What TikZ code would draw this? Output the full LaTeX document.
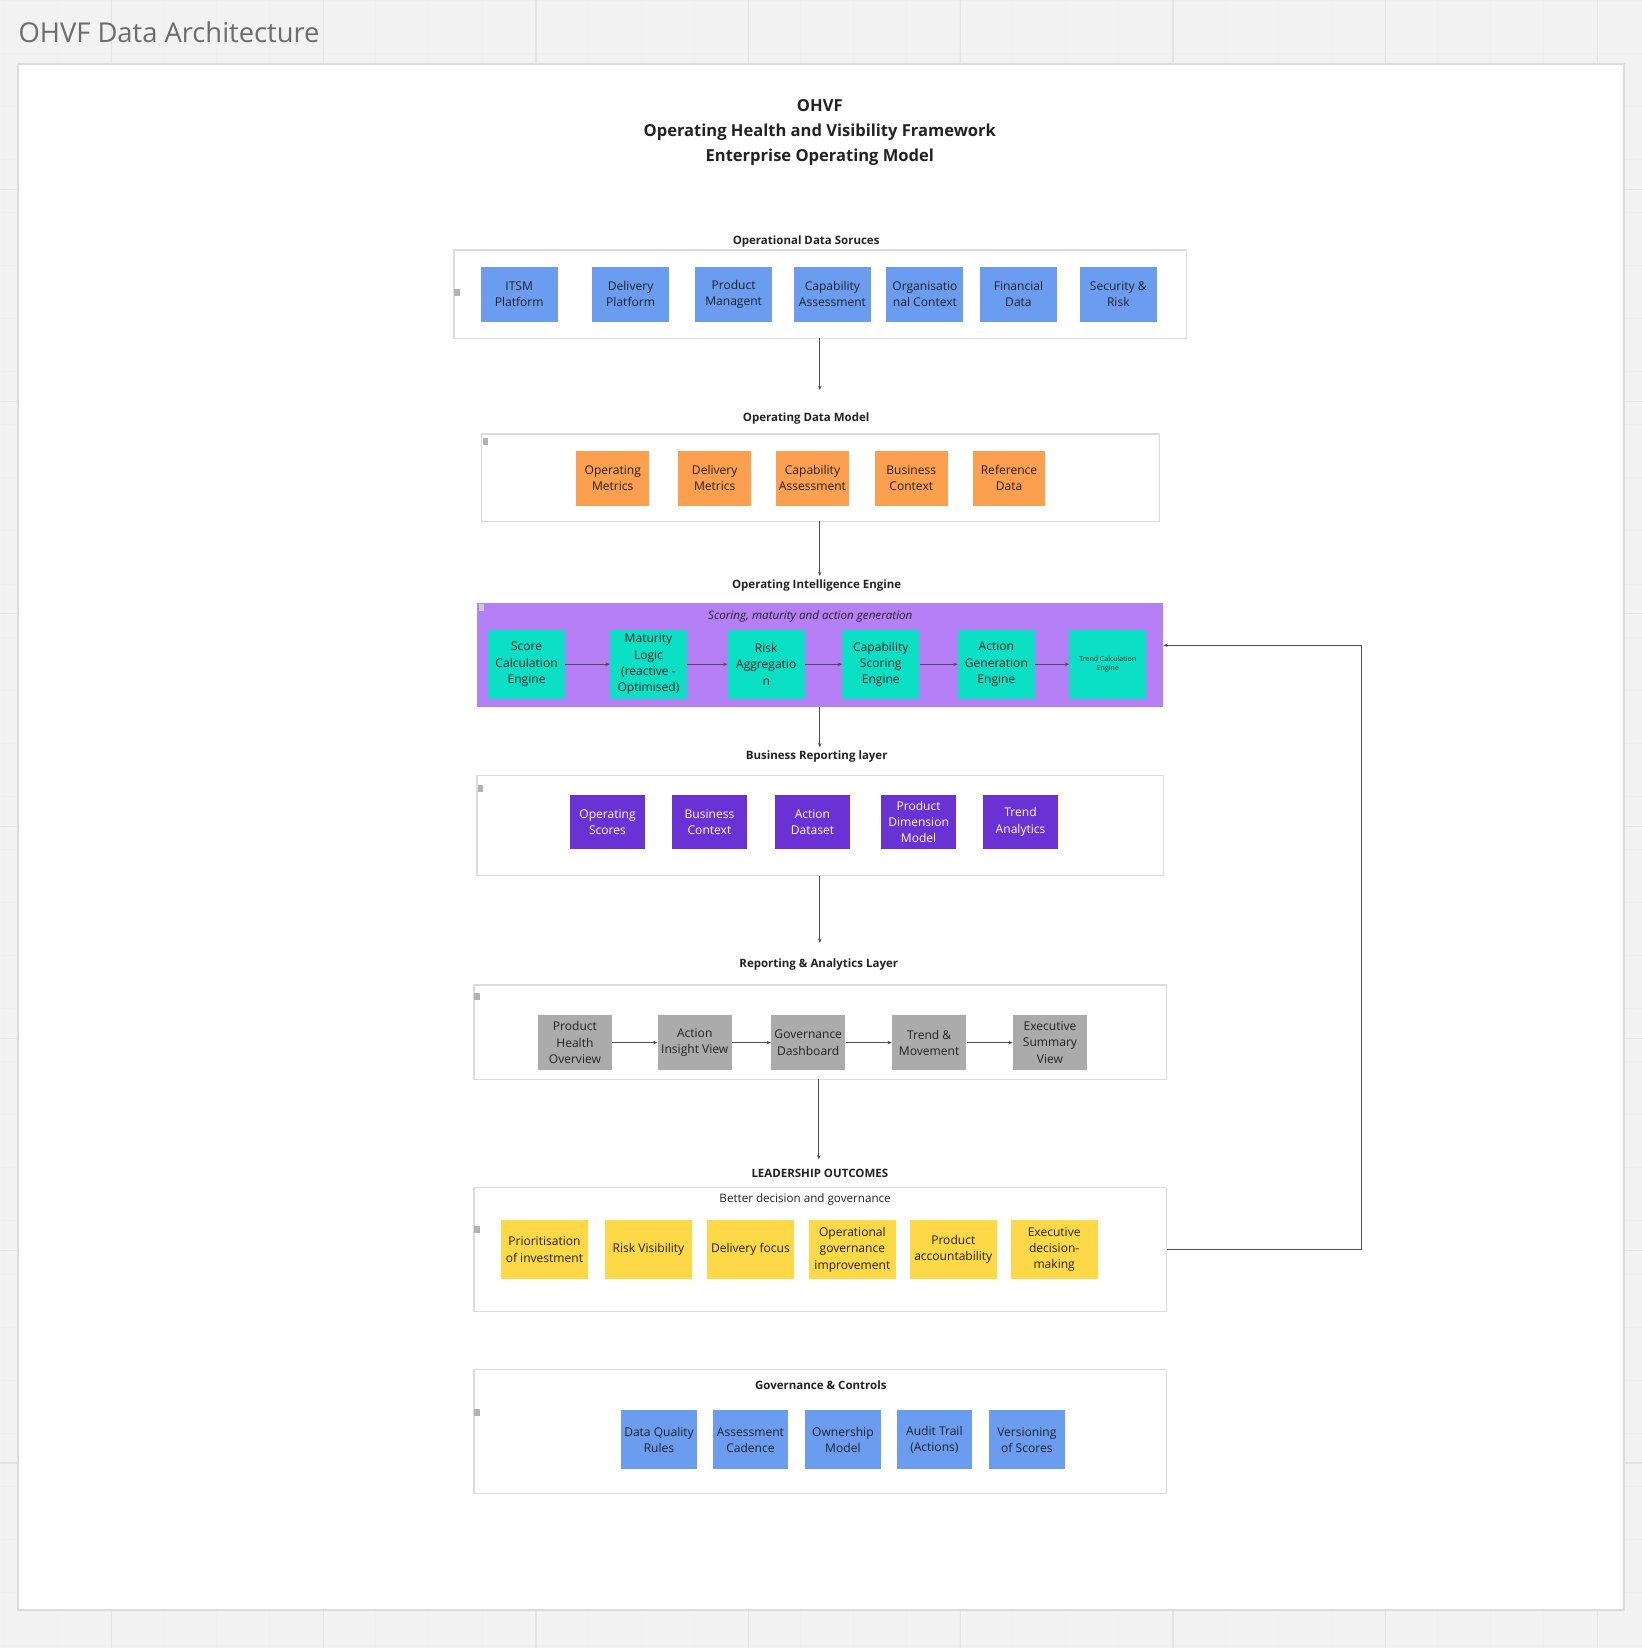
\documentclass[tikz,border=0pt]{standalone}
\usepackage{fontspec}
\setmainfont{Open Sans}
\usetikzlibrary{arrows.meta}
\definecolor{pagebg}{HTML}{F2F2F2}
\definecolor{gridln}{HTML}{E4E4E4}
\definecolor{frameln}{HTML}{DCDCDC}
\definecolor{srcblue}{HTML}{6A9CF0}
\definecolor{mdlorange}{HTML}{FCA04F}
\definecolor{engpurple}{HTML}{B57FF5}
\definecolor{engteal}{HTML}{0CE0C4}
\definecolor{rptviolet}{HTML}{6A32D4}
\definecolor{anagrey}{HTML}{ABABAB}
\definecolor{outyellow}{HTML}{FDD947}
\definecolor{inktext}{HTML}{222222}
\begin{document}
\begin{tikzpicture}[x=0.75pt,y=-0.75pt,font=\fontsize{8.6}{11.6}\selectfont,
    layer box/.style={draw=frameln,line width=1pt,fill=white},
    layer title/.style={font=\fontsize{8.2}{10}\selectfont\bfseries,text=inktext},
    tile/.style={minimum width=55pt,minimum height=39pt,align=center,inner sep=1pt,text=inktext},
    marker/.style={fill=gray!60,minimum width=4pt,minimum height=5pt,inner sep=0pt},
    flow/.style={draw=inktext!80,line width=0.6pt,-{Stealth[length=3pt,width=2.5pt]}}]
    % background and frame
    \useasboundingbox (0,0) rectangle (1562,1568);
    \fill[pagebg] (0,0) rectangle (1562,1568);
    \foreach \gx in {4,54.5,...,1562} \draw[gridln!60,line width=0.5pt] (\gx,0) -- (\gx,1568);
    \foreach \gy in {0,50.5,...,1568} \draw[gridln!60,line width=0.5pt] (0,\gy) -- (1562,\gy);
    \foreach \gx in {106,308,...,1562} \draw[gridln,line width=0.8pt] (\gx,0) -- (\gx,1568);
    \foreach \gy in {180,382,...,1568} \draw[gridln,line width=0.8pt] (0,\gy) -- (1562,\gy);
    \node[anchor=west,font=\fontsize{19.5}{24}\selectfont,text=gray!85!black] (pagetitle) at (13,31) {OHVF Data Architecture};
    \draw[frameln,line width=1.2pt,fill=white] (17,61) rectangle (1545,1532);
    \node[align=center,font=\fontsize{11.8}{18}\selectfont\bfseries,text=inktext] (title) at (780,126)
        {OHVF\\Operating Health and Visibility Framework\\Enterprise Operating Model};

    % operational data sources
    \node[layer title] (srclbl) at (767,230) {Operational Data Soruces};
    \draw[layer box] (432,238) rectangle (1129,322);
    \coordinate (srcbot) at (780,322);
    \node[marker] at (435,278) {};
    \foreach \cx/\txt [count=\i] in {494/{ITSM\\Platform},600/{Delivery\\Platform},698/{Product\\Managent},
        792/{Capability\\Assessment},880/{Organisatio\\nal Context},969/{Financial\\Data},1064/{Security \&\\Risk}}
        \node[tile,fill=srcblue] (src\i) at (\cx,280) {\txt};

    % operating data model
    \coordinate (mdltop) at (780,371);
    \draw[flow] (srcbot) -- (mdltop);
    \node[layer title] (mdllbl) at (767,398) {Operating Data Model};
    \draw[layer box] (458,413) rectangle (1103,496);
    \coordinate (mdlbot) at (780,496);
    \node[marker] at (462,420) {};
    \foreach \cx/\txt [count=\i] in {583/{Operating\\Metrics},680/{Delivery\\Metrics},773/{Capability\\Assessment},
        867/{Business\\Context},960/{Reference\\Data}}
        \node[tile,fill=mdlorange,minimum width=52pt] (mdl\i) at (\cx,455) {\txt};

    % operating intelligence engine
    \coordinate (engtop) at (780,548);
    \draw[flow] (mdlbot) -- (engtop);
    \node[layer title] (englbl) at (777,557) {Operating Intelligence Engine};
    \fill[engpurple] (454,574) rectangle (1107,673);
    \coordinate (engbot) at (780,673);
    \coordinate (engright) at (1107,614);
    \node[marker,fill=gray!40] at (458,578) {};
    \node[font=\fontsize{8.3}{10}\selectfont\itshape,text=inktext] (engsub) at (771,587) {Scoring, maturity and action generation};
    \foreach \cx/\txt [count=\i] in {501/{Score\\Calculation\\Engine},617/{Maturity\\Logic\\(reactive -\\Optimised)},
        729/{Risk\\Aggregatio\\n},838/{Capability\\Scoring\\Engine},948/{Action\\Generation\\Engine}}
        \node[tile,fill=engteal,minimum height=49pt] (eng\i) at (\cx,632) {\txt};
    \node[tile,fill=engteal,minimum height=49pt,font=\fontsize{5}{6}\selectfont] (eng6) at (1054,632) {Trend Calculation\\Engine};
    \foreach \i [evaluate=\i as \j using int(\i+1)] in {1,...,5}
        \draw[flow] (eng\i) -- (eng\j);

    % business reporting layer
    \coordinate (biztop) at (780,711);
    \draw[flow] (engbot) -- (biztop);
    \node[layer title] (bizlbl) at (777,720) {Business Reporting layer};
    \draw[layer box] (454,738) rectangle (1107,833);
    \coordinate (bizbot) at (780,833);
    \node[marker] at (457,750) {};
    \foreach \cx/\txt [count=\i] in {578/{Operating\\Scores},675/{Business\\Context},773/{Action\\Dataset},
        874/{Product\\Dimension\\Model},971/{Trend\\Analytics}}
        \node[tile,fill=rptviolet,text=white,minimum width=54pt] (biz\i) at (\cx,782) {\txt};

    % reporting and analytics layer
    \coordinate (anatop) at (780,897);
    \draw[flow] (bizbot) -- (anatop);
    \node[layer title] (analbl) at (779,918) {Reporting \& Analytics Layer};
    \draw[layer box] (451,937) rectangle (1110,1027);
    \coordinate (anabot) at (779,1027);
    \node[marker] at (454,948) {};
    \foreach \cx/\txt [count=\i] in {547/{Product\\Health\\Overview},661/{Action\\Insight View},769/{Governance\\Dashboard},
        884/{Trend \&\\Movement},999/{Executive\\Summary\\View}}
        \node[tile,fill=anagrey,minimum width=53pt] (ana\i) at (\cx,992) {\txt};
    \foreach \i [evaluate=\i as \j using int(\i+1)] in {1,...,4}
        \draw[flow] (ana\i) -- (ana\j);

    % leadership outcomes
    \coordinate (outtop) at (779,1103);
    \draw[flow] (anabot) -- (outtop);
    \node[layer title] (outlbl) at (780,1116) {LEADERSHIP OUTCOMES};
    \draw[layer box] (451,1130) rectangle (1110,1248);
    \coordinate (outright) at (1110,1189);
    \node[marker] at (454,1170) {};
    \node[font=\fontsize{8.3}{10}\selectfont,text=inktext] (outsub) at (766,1141) {Better decision and governance};
    \foreach \cx/\txt [count=\i] in {518/{Prioritisation\\of investment},617/{Risk Visibility},714/{Delivery focus},
        811/{Operational\\governance\\improvement},907/{Product\\accountability},1003/{Executive\\decision-\\making}}
        \node[tile,fill=outyellow,minimum width=62pt,minimum height=42pt] (out\i) at (\cx,1189) {\txt};
    \draw[flow] (outright) -- (1295,1189) -- (1295,614) -- (engright);

    % governance and controls
    \draw[layer box] (451,1303) rectangle (1110,1421);
    \node[layer title] (govlbl) at (781,1318) {Governance \& Controls};
    \node[marker] at (454,1344) {};
    \foreach \cx/\txt [count=\i] in {627/{Data Quality\\Rules},714/{Assessment\\Cadence},802/{Ownership\\Model},
        889/{Audit Trail\\(Actions)},977/{Versioning\\of Scores}}
        \node[tile,fill=srcblue,minimum width=54pt,minimum height=42pt] (gov\i) at (\cx,1370) {\txt};
\end{tikzpicture}
\end{document}
